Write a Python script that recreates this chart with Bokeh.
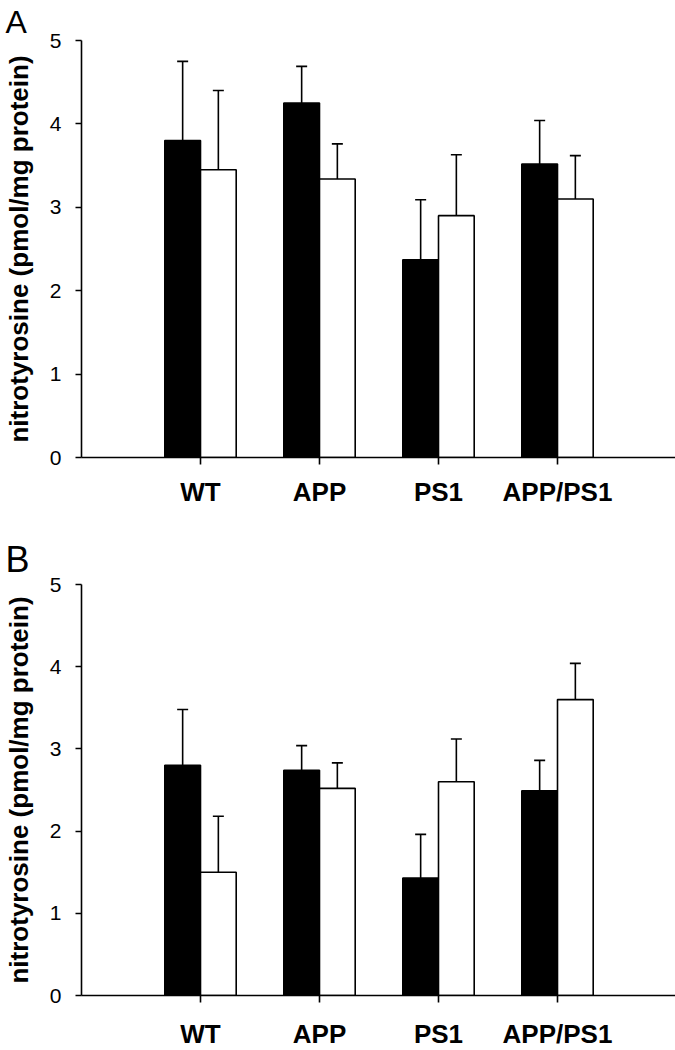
from bokeh.plotting import figure
from bokeh.layouts import column
from bokeh.models import ColumnDataSource, Whisker, TeeHead, FixedTicker, Range1d
from bokeh.embed import file_html
from bokeh.resources import INLINE

groups = ["WT", "APP", "PS1", "APP/PS1"]
positions = [1, 2, 3, 4]
y_ticks = [0, 1, 2, 3, 4, 5]
y_title = "nitrotyrosine (pmol/mg protein)"

# Panel A
a_black_mean = [3.80, 4.25, 2.37, 3.52]
a_black_err = [0.95, 0.44, 0.72, 0.52]
a_white_mean = [3.45, 3.34, 2.90, 3.10]
a_white_err = [0.95, 0.42, 0.73, 0.52]

# Panel B
b_black_mean = [2.80, 2.74, 1.43, 2.49]
b_black_err = [0.68, 0.30, 0.53, 0.37]
b_white_mean = [1.50, 2.52, 2.60, 3.60]
b_white_err = [0.68, 0.31, 0.52, 0.44]

FONT = "Liberation Sans"
BAR_W = 0.3
LW = 1.6


def make_panel(letter, bm, be, wm, we, top_border, frame_h, bottom_border,
               label_standoff, letter_size, letter_standoff):
    p = figure(frame_width=595, frame_height=frame_h,
               x_range=Range1d(0, 5), y_range=Range1d(0, 5),
               output_backend="svg", toolbar_location=None,
               min_border_left=78, min_border_right=2,
               min_border_top=top_border, min_border_bottom=bottom_border)
    p.outline_line_color = None
    p.xgrid.visible = False
    p.ygrid.visible = False
    p.background_fill_color = "white"
    p.border_fill_color = "white"

    p.title.text = letter
    p.title.text_font = FONT
    p.title.text_font_style = "normal"
    p.title.text_font_size = letter_size
    p.title.text_color = "black"
    p.title.align = "left"
    p.title.offset = -76
    p.title.standoff = letter_standoff

    for means, errs, color, shift in ((bm, be, "black", -BAR_W / 2), (wm, we, "white", BAR_W / 2)):
        xs = [x + shift for x in positions]
        src = ColumnDataSource(dict(x=xs, mean=means,
                                    upper=[m + e for m, e in zip(means, errs)]))
        p.add_layout(Whisker(source=src, base="x", lower="mean", upper="upper",
                             line_color="black", line_width=LW,
                             upper_head=TeeHead(size=11, line_width=LW, line_color="black"),
                             lower_head=None, level="underlay"))
        p.vbar(x="x", top="mean", bottom=0, width=BAR_W, source=src,
               fill_color=color, line_color="black", line_width=LW)

    # x axis
    xa = p.xaxis[0]
    xa.ticker = FixedTicker(ticks=positions)
    xa.major_label_overrides = {pos: g for pos, g in zip(positions, groups)}
    xa.major_label_text_font = FONT
    xa.major_label_text_font_style = "bold"
    xa.major_label_text_font_size = "26px"
    xa.major_label_text_color = "black"
    xa.major_label_standoff = label_standoff
    xa.major_tick_in = 0
    xa.major_tick_out = 7
    xa.minor_tick_in = 0
    xa.minor_tick_out = 0
    xa.axis_line_width = LW
    xa.major_tick_line_width = LW
    xa.axis_line_color = "black"
    xa.major_tick_line_color = "black"

    # y axis
    ya = p.yaxis[0]
    ya.ticker = FixedTicker(ticks=y_ticks)
    ya.major_label_text_font = FONT
    ya.major_label_text_font_size = "21px"
    ya.major_label_text_color = "black"
    ya.major_label_standoff = 14
    ya.major_tick_in = 0
    ya.major_tick_out = 6
    ya.minor_tick_in = 0
    ya.minor_tick_out = 0
    ya.axis_line_width = LW
    ya.major_tick_line_width = LW
    ya.axis_line_color = "black"
    ya.major_tick_line_color = "black"
    ya.axis_label = y_title
    ya.axis_label_text_font = FONT
    ya.axis_label_text_font_style = "bold"
    ya.axis_label_text_font_size = "26px"
    ya.axis_label_text_color = "black"
    ya.axis_label_standoff = 13
    return p


pA = make_panel("A", a_black_mean, a_black_err, a_white_mean, a_white_err,
                top_border=40, frame_h=417, bottom_border=63,
                label_standoff=12, letter_size="32px", letter_standoff=2)
pB = make_panel("B", b_black_mean, b_black_err, b_white_mean, b_white_err,
                top_border=64, frame_h=411, bottom_border=55,
                label_standoff=16, letter_size="36px", letter_standoff=10)

layout = column(pA, pB, spacing=0)
open("out.html", "w").write(file_html(layout, INLINE))
